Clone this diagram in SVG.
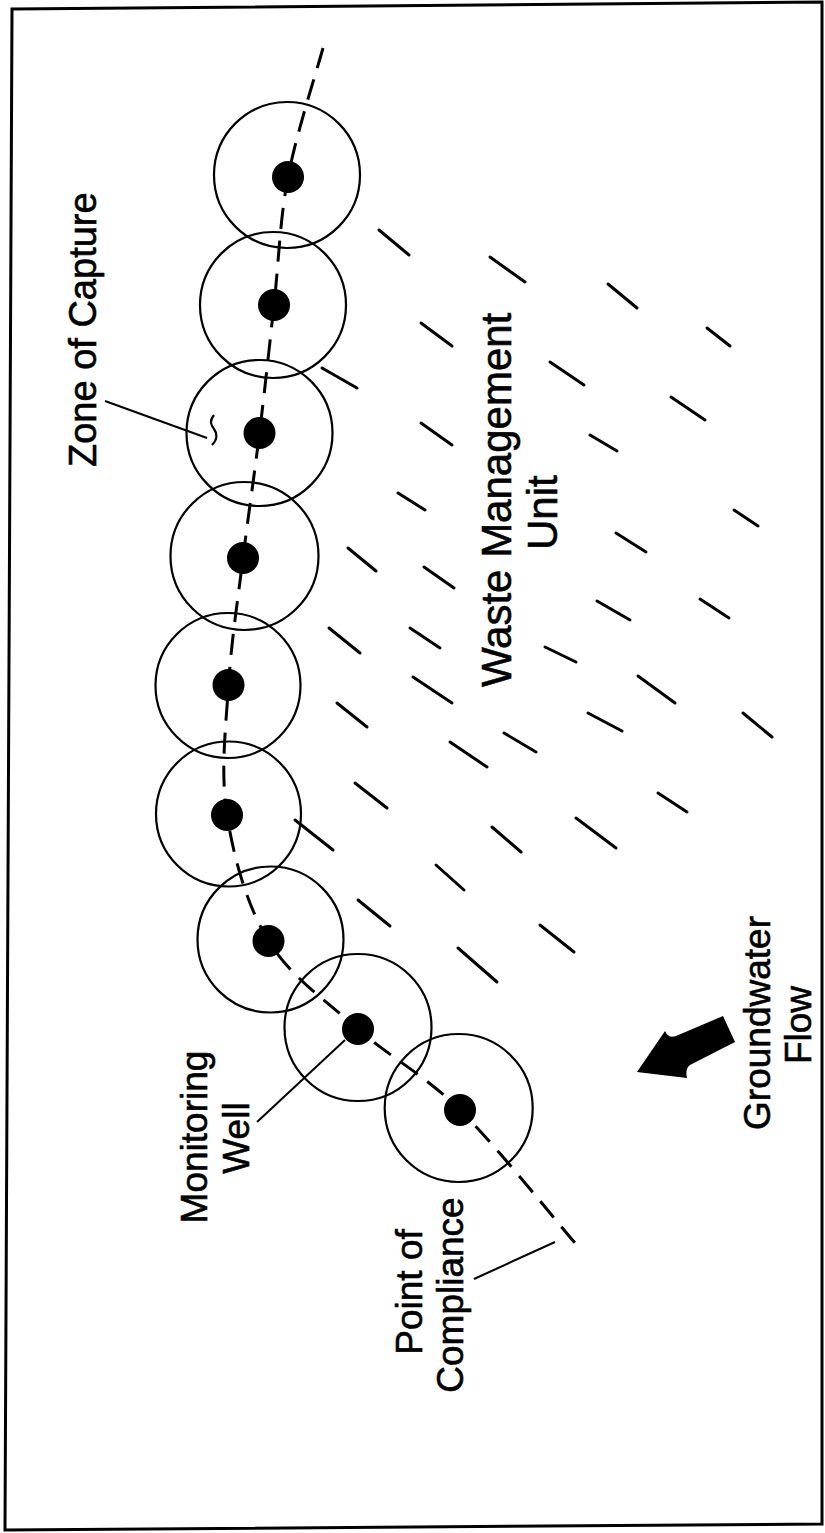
<svg xmlns="http://www.w3.org/2000/svg" width="825" height="1533" viewBox="0 0 825 1533">
<style>
  .zone { fill: none; stroke: #000; stroke-width: 2.2; }
  .dot { fill: #000; }
  .lbl { font-family: "Liberation Sans", Arial, sans-serif; font-size: 37px; fill: #000; stroke: #000; stroke-width: 0.6; }
  .big { font-size: 42px; }
  .hatch line { stroke: #000; stroke-width: 3; stroke-linecap: round; }
  .leader { stroke: #000; stroke-width: 2; fill: none; }
  .poc { fill: none; stroke: #000; stroke-width: 3; stroke-dasharray: 21 12; }
</style>
<rect width="825" height="1533" fill="#fff"/>
<polygon id="frame" points="12,9 822,2 822,1524 5,1530" fill="none" stroke="#000" stroke-width="3"/>

<g id="waste-unit-hatching" class="hatch">
  <line x1="379" y1="230" x2="409" y2="255"/>
  <line x1="490" y1="257" x2="525" y2="282"/>
  <line x1="608" y1="284" x2="637" y2="308"/>
  <line x1="421" y1="323" x2="452" y2="346"/>
  <line x1="707" y1="328" x2="730" y2="346"/>
  <line x1="550" y1="362" x2="584" y2="385"/>
  <line x1="322" y1="368" x2="357" y2="388"/>
  <line x1="671" y1="397" x2="705" y2="420"/>
  <line x1="421" y1="423" x2="452" y2="445"/>
  <line x1="590" y1="435" x2="617" y2="451"/>
  <line x1="398" y1="493" x2="425" y2="510"/>
  <line x1="734" y1="510" x2="758" y2="526"/>
  <line x1="616" y1="533" x2="646" y2="552"/>
  <line x1="348" y1="548" x2="376" y2="571"/>
  <line x1="424" y1="567" x2="454" y2="588"/>
  <line x1="597" y1="601" x2="630" y2="620"/>
  <line x1="700" y1="599" x2="729" y2="618"/>
  <line x1="329" y1="628" x2="360" y2="653"/>
  <line x1="410" y1="628" x2="440" y2="648"/>
  <line x1="545" y1="647" x2="576" y2="662"/>
  <line x1="413" y1="677" x2="452" y2="703"/>
  <line x1="638" y1="676" x2="675" y2="703"/>
  <line x1="337" y1="703" x2="367" y2="727"/>
  <line x1="588" y1="713" x2="622" y2="731"/>
  <line x1="743" y1="713" x2="772" y2="737"/>
  <line x1="504" y1="733" x2="536" y2="752"/>
  <line x1="450" y1="742" x2="487" y2="767"/>
  <line x1="355" y1="783" x2="387" y2="808"/>
  <line x1="658" y1="793" x2="687" y2="812"/>
  <line x1="576" y1="818" x2="616" y2="848"/>
  <line x1="295" y1="820" x2="333" y2="850"/>
  <line x1="492" y1="827" x2="521" y2="852"/>
  <line x1="436" y1="865" x2="464" y2="890"/>
  <line x1="358" y1="900" x2="390" y2="926"/>
  <line x1="540" y1="925" x2="574" y2="952"/>
  <line x1="458" y1="948" x2="497" y2="982"/>
</g>

<g id="connectors">
  <path id="point-of-compliance-line" class="poc" d="M323,48 C317.2,69.5 296.2,134.2 288,177 C279.8,219.8 278.75,262.3 274,305 C269.25,347.7 264.7,390.8 259.5,433 C254.3,475.2 248.2,516 243,558 C237.8,600 231.2,642.2 228.5,685 C225.8,727.8 220.3,772.3 227,815 C233.7,857.7 246.7,905.3 268.5,941 C290.3,976.7 326.1,1000.8 358,1029 C389.9,1057.2 423.8,1074.3 460,1110 C496.2,1145.7 555.8,1220.8 575,1243"/>
  <line class="leader" x1="105" y1="401" x2="207" y2="438"/>
  <line class="leader" x1="257" y1="1122" x2="345" y2="1040"/>
  <line class="leader" x1="474" y1="1279" x2="555" y2="1242"/>
</g>

<g id="well-1"><circle class="zone" cx="287" cy="175" r="73"/><circle class="dot" cx="288" cy="177" r="16"/></g>
<g id="well-2"><circle class="zone" cx="273" cy="305" r="73"/><circle class="dot" cx="274" cy="305" r="16"/></g>
<g id="well-3"><circle class="zone" cx="259.5" cy="433" r="73"/><circle class="dot" cx="259.5" cy="433" r="16"/>
  <path d="M214,415 C209,421 211,425 214,429 C217,433 218,439 212,445" fill="none" stroke="#000" stroke-width="2.2"/></g>
<g id="well-4"><circle class="zone" cx="244.5" cy="556" r="74" stroke-width="3"/><circle class="dot" cx="243" cy="558" r="16"/></g>
<g id="well-5"><circle class="zone" cx="228" cy="685.5" r="72.5"/><circle class="dot" cx="228.5" cy="685" r="16"/></g>
<g id="well-6"><circle class="zone" cx="228.5" cy="814" r="72.5"/><circle class="dot" cx="227" cy="815" r="16"/></g>
<g id="well-7"><circle class="zone" cx="270.5" cy="939.5" r="73"/><circle class="dot" cx="268.5" cy="941" r="16"/></g>
<g id="well-8"><circle class="zone" cx="358" cy="1027.5" r="73.5"/><circle class="dot" cx="358" cy="1029" r="16"/></g>
<g id="well-9"><circle class="zone" cx="458.7" cy="1108" r="74"/><circle class="dot" cx="460" cy="1110" r="16"/></g>

<g id="label-zone-of-capture">
  <text class="lbl" transform="translate(96,467) rotate(-90)" style="font-size:38px">Zone of Capture</text>
</g>
<g id="label-waste-management-unit">
  <text class="lbl big" transform="translate(511,687) rotate(-90)">Waste Management</text>
  <text class="lbl big" transform="translate(557,550) rotate(-90)">Unit</text>
</g>
<g id="label-monitoring-well">
  <text class="lbl" text-anchor="middle" transform="translate(207,1137) rotate(-90)">Monitoring</text>
  <text class="lbl" text-anchor="middle" transform="translate(249,1138) rotate(-90)">Well</text>
</g>
<g id="label-point-of-compliance">
  <text class="lbl" text-anchor="middle" transform="translate(421.5,1292) rotate(-90)">Point of</text>
  <text class="lbl" text-anchor="middle" transform="translate(463,1295) rotate(-90)">Compliance</text>
</g>
<g id="groundwater-flow-arrow">
  <path d="M637,1072 L665,1031 C667,1036 671,1038 676,1036 L723,1016 L735,1042 L690,1065 C686,1068 686,1073 687,1078 Z" fill="#000"/>
</g>
<g id="label-groundwater-flow">
  <text class="lbl" text-anchor="middle" transform="translate(770,1023) rotate(-90)">Groundwater</text>
  <text class="lbl" text-anchor="middle" transform="translate(811,1025) rotate(-90)">Flow</text>
</g>
</svg>
